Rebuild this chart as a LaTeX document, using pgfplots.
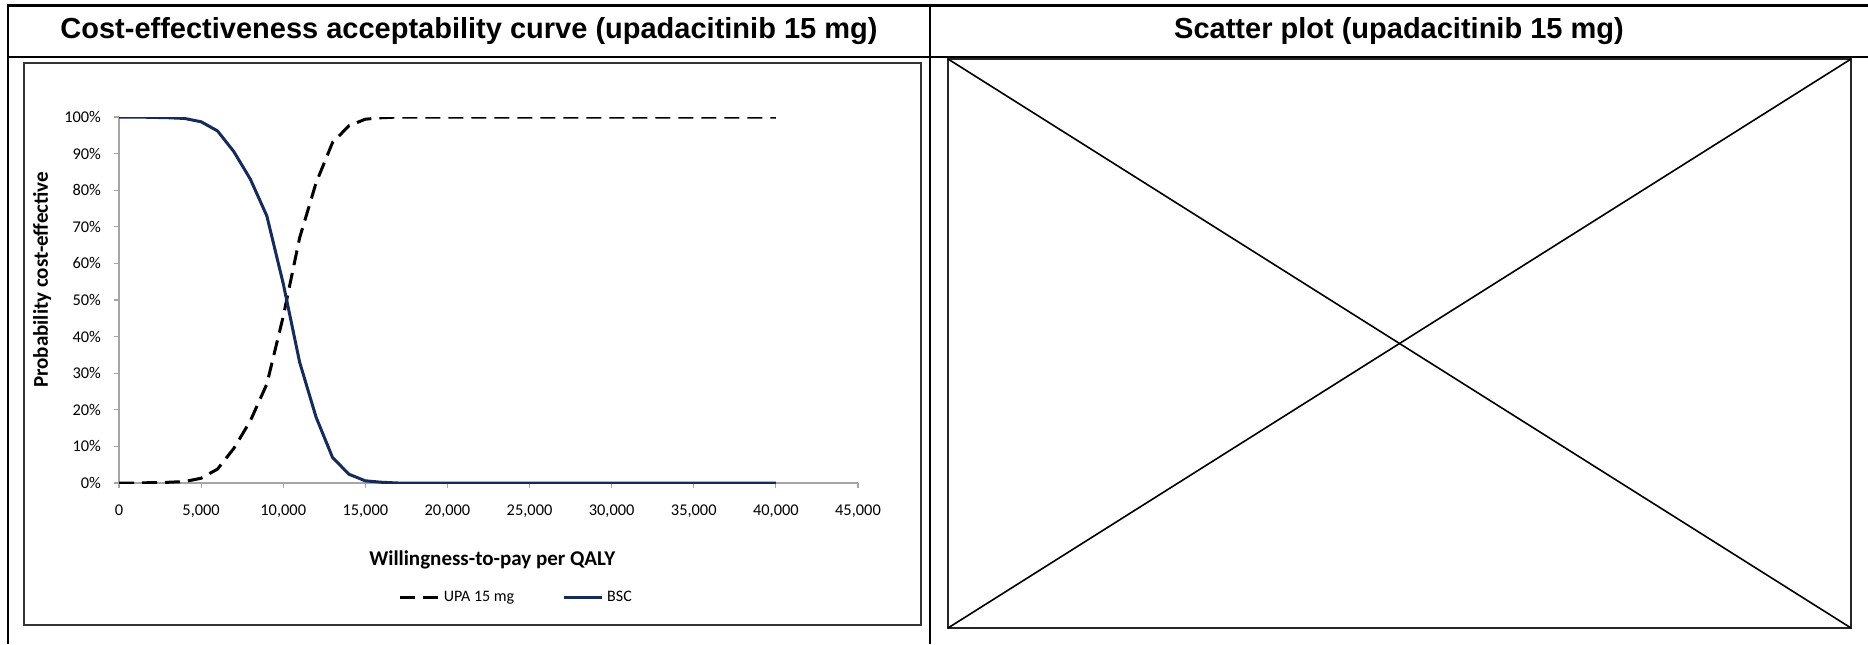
\documentclass[border=0pt]{standalone}
\usepackage{pgfplots}
\pgfplotsset{compat=1.18}
\usepackage{pgfplotstable}
\usepackage{fontspec}
\setmainfont{Carlito}
\newfontfamily\arialfont{Liberation Sans}
\definecolor{bscnavy}{HTML}{172B5A}
\definecolor{axisgray}{HTML}{A6A6A6}

% willingness-to-pay, probability cost-effective (%)
\pgfplotstableread{
wtp   bsc   upa
0     100   0
1000  100   0
2000  99.9  0.1
3000  99.8  0.2
4000  99.6  0.4
5000  98.7  1.3
6000  96.2  3.8
7000  90.5  9.5
8000  83    17
9000  73    27
10000 54.5  45.5
11000 33    67
12000 18    82
13000 7     93
14000 2.4   97.6
15000 0.6   99.4
16000 0.2   99.8
17000 0     100
18000 0     100
19000 0     100
20000 0     100
21000 0     100
22000 0     100
23000 0     100
24000 0     100
25000 0     100
26000 0     100
27000 0     100
28000 0     100
29000 0     100
30000 0     100
31000 0     100
32000 0     100
33000 0     100
34000 0     100
35000 0     100
36000 0     100
37000 0     100
38000 0     100
39000 0     100
40000 0     100
}\ceac

\begin{document}
\begin{tikzpicture}
\useasboundingbox (0pt,0pt) rectangle (934pt,322pt);

\begin{scope}[x=0.5pt,y=0.5pt]
% table grid
\draw[line width=1.2pt] (8,0) -- (8,638.5) -- (1868,638.5);
\draw[line width=1.2pt] (8,587) -- (1868,587);
\draw[line width=1.2pt] (930,638.5) -- (930,0);

\node[font=\arialfont\bfseries\fontsize{14.5}{17}\selectfont] at (469,613)
  {Cost-effectiveness acceptability curve (upadacitinib 15 mg)};
\node[font=\arialfont\bfseries\fontsize{14.5}{17}\selectfont] at (1399,613)
  {Scatter plot (upadacitinib 15 mg)};

% chart area frame
\draw[black!80, line width=0.7pt] (24,19) rectangle (921,581);

% placeholder image for the scatter plot
\draw[black!85, line width=1pt] (948,16) rectangle (1851,585);
\draw[line width=0.8pt] (948,16) -- (1851,585);
\draw[line width=0.8pt] (948,585) -- (1851,16);
\end{scope}

\begin{axis}[
    at={(59.5pt,80.5pt)}, anchor=south west,
    scale only axis, width=369.5pt, height=183pt,
    xmin=0, xmax=45000, ymin=0, ymax=100,
    xtick={0,5000,...,45000},
    ytick={0,10,...,100},
    scaled x ticks=false,
    /pgf/number format/1000 sep={,},
    /pgf/number format/assume math mode=true,
    yticklabel={\pgfmathprintnumber{\tick}\%},
    axis lines*=left,
    axis line style={axisgray, line width=0.6pt, -},
    tick style={axisgray, line width=0.6pt},
    tick align=outside,
    major tick length=2.5pt,
    every tick label/.append style={font=\fontsize{8.2}{10}\selectfont, black},
    xticklabel style={yshift=-5pt},
    yticklabel style={xshift=-3pt},
    xlabel={\bfseries Willingness-to-pay per QALY},
    ylabel={\bfseries Probability cost-effective},
    xlabel style={at={(axis description cs:0.505,-0.21)}, anchor=center,
                  font=\fontsize{10.5}{12}\selectfont},
    ylabel style={at={(axis description cs:-0.104,0.555)}, anchor=center,
                  font=\fontsize{10.5}{12}\selectfont},
    legend style={at={(axis description cs:0.539,-0.314)}, anchor=center,
                  draw=none, fill=none, font=\fontsize{8}{10}\selectfont,
                  legend columns=2,
                  /tikz/every even column/.append style={column sep=22pt}},
    legend image code/.code={\draw[#1] (0pt,0pt) -- (19pt,0pt);},
  ]
  \addplot[black, line width=1.5pt, dash pattern=on 7.5pt off 4pt]
    table[x=wtp, y=upa] {\ceac};
  \addlegendentry{UPA 15 mg}
  \addplot[bscnavy, line width=1.5pt, line join=round]
    table[x=wtp, y=bsc] {\ceac};
  \addlegendentry{BSC}
\end{axis}
\end{tikzpicture}
\end{document}
